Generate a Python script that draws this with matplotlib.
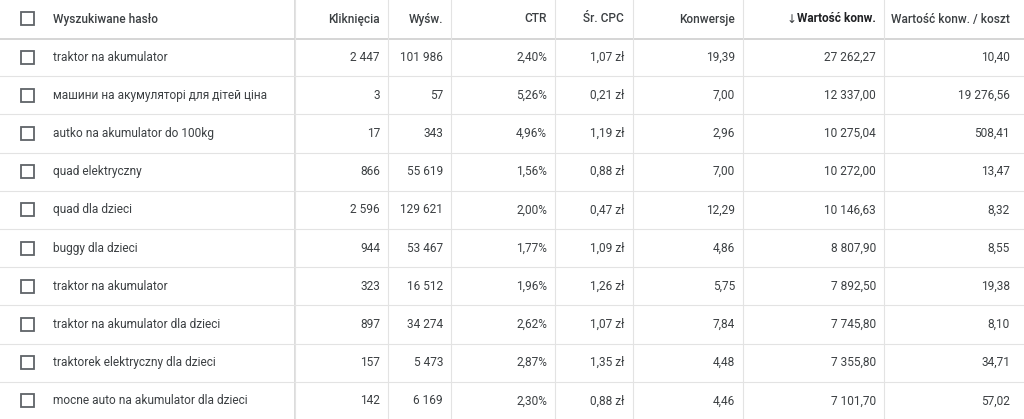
import matplotlib
matplotlib.use("Agg")
import matplotlib.pyplot as plt
from matplotlib.patches import Rectangle

headers = ["Wyszukiwane hasło", "Kliknięcia", "Wyśw.", "CTR", "Śr. CPC", "Konwersje", "Wartość konw.", "Wartość konw. / koszt"]
terms = ["traktor na akumulator", "машини на акумуляторі для дітей ціна", "autko na akumulator do 100kg",
         "quad elektryczny", "quad dla dzieci", "buggy dla dzieci", "traktor na akumulator",
         "traktor na akumulator dla dzieci", "traktorek elektryczny dla dzieci", "mocne auto na akumulator dla dzieci"]
clicks = ["2 447", "3", "17", "866", "2 596", "944", "323", "897", "157", "142"]
impr = ["101 986", "57", "343", "55 619", "129 621", "53 467", "16 512", "34 274", "5 473", "6 169"]
ctr = ["2,40%", "5,26%", "4,96%", "1,56%", "2,00%", "1,77%", "1,96%", "2,62%", "2,87%", "2,30%"]
cpc = ["1,07 zł", "0,21 zł", "1,19 zł", "0,88 zł", "0,47 zł", "1,09 zł", "1,26 zł", "1,07 zł", "1,35 zł", "0,88 zł"]
conv = ["19,39", "7,00", "2,96", "7,00", "12,29", "4,86", "5,75", "7,84", "4,48", "4,46"]
value = ["27 262,27", "12 337,00", "10 275,04", "10 272,00", "10 146,63", "8 807,90", "7 892,50", "7 745,80", "7 355,80", "7 101,70"]
roas = ["10,40", "19 276,56", "508,41", "13,47", "8,32", "8,55", "19,38", "8,10", "34,71", "57,02"]

W, H = 1024, 419
fig = plt.figure(figsize=(W/100, H/100), dpi=100)
ax = fig.add_axes([0, 0, 1, 1])
ax.set_xlim(0, W); ax.set_ylim(H, 0); ax.axis("off")
plt.rcParams['font.family'] = ['Roboto', 'DejaVu Sans']
tc = "#3c4043"; lc = "#e3e3e3"; fs = 8.6

vlines = [295, 388, 451, 555, 633, 743, 884]
right_x = [380, 443, 547, 624, 735, 876, 1010]
head_h = 38; row_h = 38.2

for x in vlines:
    ax.plot([x, x], [0, H], color=lc, lw=0.8)
ax.add_patch(Rectangle((294, 0), 2, H, color="#dcdcdc", lw=0))
ax.add_patch(Rectangle((0, head_h), W, 2.5, color="#d6d6d6", lw=0))

def checkbox(y):
    ax.add_patch(Rectangle((21, y-6.5), 13, 13, fill=False, ec="#5f6368", lw=1.3))

checkbox(19)
ax.text(53, 19, headers[0], ha="left", va="center", fontsize=fs, color=tc, fontweight="medium")
for i, h in enumerate(headers[1:]):
    ax.text(right_x[i], 19, h, ha="right", va="center", fontsize=fs, color="#202124" if i == 5 else tc,
            fontweight="bold" if i == 5 else "medium")
ax.text(792, 19.5, "↓", ha="center", va="center", fontsize=fs, color=tc, family="DejaVu Sans")

cols = [clicks, impr, ctr, cpc, conv, value, roas]
for r in range(len(terms)):
    yc = head_h + row_h*(r+0.5)
    yb = head_h + row_h*(r+1)
    ax.plot([0, W], [yb, yb], color=lc, lw=0.8)
    checkbox(yc)
    ax.text(53, yc, terms[r], ha="left", va="center", fontsize=fs, color=tc)
    for i, c in enumerate(cols):
        ax.text(right_x[i], yc, c[r], ha="right", va="center", fontsize=fs, color=tc)

fig.savefig("out.png", dpi=100, facecolor="white")
